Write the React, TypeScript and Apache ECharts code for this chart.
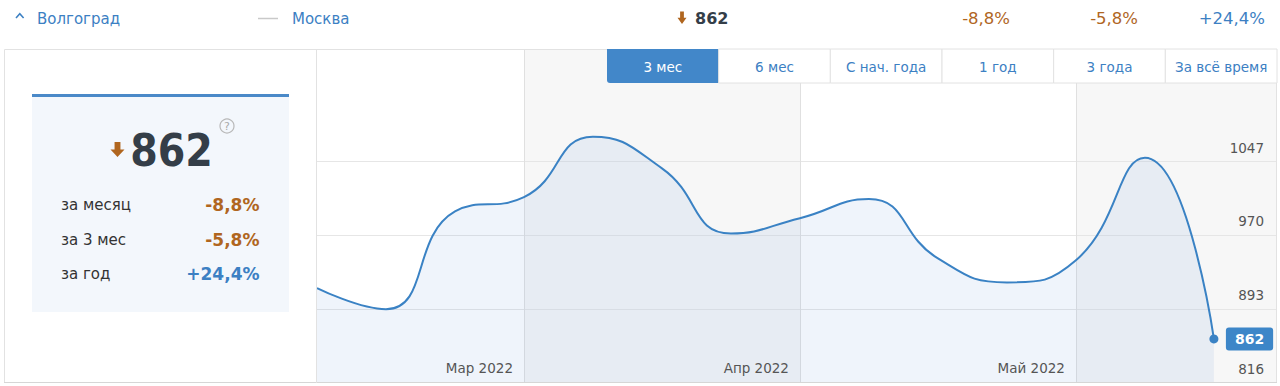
import React, { useEffect, useRef } from 'react';
import * as echarts from 'echarts';

// ---- data ----
const weekIndex = [0, 1, 2, 3, 4, 5, 6, 7, 8, 9, 10, 11, 12, 13];
const values = [915, 893, 995, 1010, 1073, 1040, 972, 988, 1008, 946, 921, 944, 1051, 862];
const monthStarts = [3, 7, 11];
const monthLabels = ['Мар 2022', 'Апр 2022', 'Май 2022'];
const yTicks = [816, 893, 970, 1047];
const periods = ['3 мес', '6 мес', 'С нач. года', '1 год', '3 года', 'За всё время'];
const statLabels = ['за месяц', 'за 3 мес', 'за год'];
const statValues = ['-8,8%', '-5,8%', '+24,4%'];
const cityMain = 'Волгоград';
const cityCompare = 'Москва';
const current = 862;

const X_MAX = 13.9;
const Y_MIN = 816;
const Y_MAX = 1163.5;

const FONT = "'DejaVu Sans', Verdana, sans-serif";
const FONT_COND = "'DejaVu Sans Condensed', 'DejaVu Sans', sans-serif";
const BLUE = '#3c80c3';
const BROWN = '#b0661f';
const DARK = '#343e48';
const LINE = '#3a82c4';
const BORDER = '#e2e2e2';

function downArrow(cx: number, y0: number, w: number, h: number, color: string) {
  const sw = w * 0.42;
  const mid = y0 + h * 0.5;
  return {
    type: 'polygon',
    z: 100,
    shape: {
      points: [
        [cx - sw / 2, y0], [cx + sw / 2, y0], [cx + sw / 2, mid], [cx + w / 2, mid],
        [cx, y0 + h], [cx - w / 2, mid], [cx - sw / 2, mid],
      ],
    },
    style: { fill: color },
  };
}

function txt(text: string, x: number, y: number, opts: any = {}) {
  return {
    type: 'text',
    z: 100,
    style: {
      text, x, y,
      fill: opts.fill || '#333',
      fontSize: opts.fontSize || 15,
      fontWeight: opts.fontWeight || 'normal',
      fontFamily: opts.fontFamily || FONT,
      align: opts.align || 'left',
      verticalAlign: 'middle',
    },
  };
}

function buildGraphic() {
  const els: any[] = [];
  // card border
  els.push({ type: 'rect', z: 90, shape: { x: 4.5, y: 49.5, width: 1272, height: 333 }, style: { fill: 'none', stroke: BORDER, lineWidth: 1 } });
  els.push({ type: 'line', z: 91, shape: { x1: 4, y1: 382.5, x2: 1277, y2: 382.5 }, style: { stroke: '#d6d6d6', lineWidth: 1 } });
  els.push({ type: 'line', z: 91, shape: { x1: 316.5, y1: 49, x2: 316.5, y2: 383 }, style: { stroke: BORDER, lineWidth: 1 } });

  // header row
  els.push({ type: 'polyline', z: 100, shape: { points: [[16, 18], [19.8, 13.8], [23.6, 18]] }, style: { stroke: BLUE, lineWidth: 1.6, fill: 'none' } });
  els.push(txt(cityMain, 37, 18.5, { fill: BLUE, fontSize: 15 }));
  els.push({ type: 'line', z: 100, shape: { x1: 258, y1: 18.5, x2: 278, y2: 18.5 }, style: { stroke: '#c9c9c9', lineWidth: 1.5 } });
  els.push(txt(cityCompare, 292, 18.5, { fill: BLUE, fontSize: 15 }));
  els.push(downArrow(682, 11.5, 9, 12.5, BROWN));
  els.push(txt(String(current), 695, 18.5, { fill: DARK, fontSize: 16, fontWeight: 'bold' }));
  const hdrRight = [1010, 1138, 1265];
  statValues.forEach((v, i) => {
    els.push(txt(v, hdrRight[i], 18.5, { fill: v.startsWith('+') ? BLUE : BROWN, fontSize: 16.5, align: 'right' }));
  });

  // left panel
  els.push({ type: 'rect', z: 95, shape: { x: 32, y: 94, width: 257, height: 218 }, style: { fill: '#f3f7fc' } });
  els.push({ type: 'rect', z: 96, shape: { x: 32, y: 94, width: 257, height: 3 }, style: { fill: '#4a89c8' } });
  els.push(downArrow(117.5, 142, 14, 15, BROWN));
  els.push(txt(String(current), 171.5, 150, { fill: DARK, fontSize: 44, fontWeight: 'bold', align: 'center', fontFamily: FONT_COND }));
  els.push({ type: 'circle', z: 100, shape: { cx: 227, cy: 126, r: 7 }, style: { fill: 'none', stroke: '#b8b8b8', lineWidth: 1.2 } });
  els.push(txt('?', 227, 126.5, { fill: '#aaa', fontSize: 11, align: 'center' }));
  const rowY = [205, 240, 274];
  statLabels.forEach((l, i) => {
    els.push(txt(l, 61, rowY[i], { fill: '#333', fontSize: 15 }));
    els.push(txt(statValues[i], 259.5, rowY[i], { fill: statValues[i].startsWith('+') ? BLUE : BROWN, fontSize: 17, fontWeight: 'bold', align: 'right' }));
  });

  // period buttons
  const bx0 = 607, bx1 = 1277, by = 49, bh = 34;
  const bw = (bx1 - bx0) / periods.length;
  periods.forEach((p, i) => {
    const active = i === 0;
    els.push({
      type: 'rect', z: 100,
      shape: { x: bx0 + i * bw, y: by, width: bw, height: bh, r: active ? [0, 0, 0, 3] : 0 },
      style: active ? { fill: '#4287c9' } : { fill: '#fff', stroke: BORDER, lineWidth: 1 },
    });
    els.push(txt(p, bx0 + i * bw + bw / 2, by + bh / 2 + 1, { fill: active ? '#fff' : BLUE, fontSize: 13.5, align: 'center' }));
  });
  return els;
}

export default function App() {
  const ref = useRef<HTMLDivElement>(null);
  useEffect(() => {
    if (!ref.current) return;
    const chart = echarts.init(ref.current, undefined, { renderer: 'svg' });
    const points = weekIndex.map((x, i) => [x, values[i]]);
    const last = values.length - 1;
    chart.setOption({
      animation: false,
      textStyle: { fontFamily: FONT },
      grid: { left: 317, right: 4, top: 50, bottom: 3, containLabel: false },
      xAxis: {
        type: 'value', min: 0, max: X_MAX, z: 5,
        axisLine: { show: false }, axisTick: { show: false }, splitLine: { show: false },
        axisLabel: {
          inside: true, margin: 8, customValues: monthStarts,
          formatter: (v: number) => monthLabels[monthStarts.indexOf(v)] || '',
          align: 'right', verticalAlign: 'bottom', padding: [0, 11, 0, 0],
          color: '#555', fontSize: 13.5, fontFamily: FONT,
        },
      },
      yAxis: {
        type: 'value', position: 'right', min: Y_MIN, max: Y_MAX, interval: 77, z: 5,
        axisLine: { show: false }, axisTick: { show: false }, splitLine: { show: false },
        axisLabel: {
          inside: true, margin: 12, showMaxLabel: false,
          formatter: (v: number) => (yTicks.indexOf(v) >= 0 ? String(v) : ''),
          verticalAlign: 'bottom', padding: [0, 0, 7, 0],
          color: '#555', fontSize: 13.5, fontFamily: FONT,
        },
      },
      graphic: buildGraphic(),
      series: [
        {
          type: 'line', z: 1, silent: true, data: points, showSymbol: false,
          lineStyle: { opacity: 0 },
          markArea: {
            silent: true, z: 1,
            itemStyle: { color: '#f7f7f7' },
            data: [
              [{ xAxis: monthStarts[0] }, { xAxis: monthStarts[1] }],
              [{ xAxis: monthStarts[2] }, { xAxis: X_MAX }],
            ],
          },
          markLine: {
            silent: true, z: 2, symbol: ['none', 'none'], label: { show: false },
            lineStyle: { color: '#e6e6e6', type: 'solid', width: 1 },
            data: [
              ...yTicks.slice(1).map((v) => ({ yAxis: v })),
              ...monthStarts.map((v) => ({ xAxis: v, lineStyle: { color: '#e0e0e0', type: 'solid', width: 1 } })),
            ],
          },
        },
        {
          type: 'line', z: 3, data: points, smooth: 0.5,
          showSymbol: true, symbol: 'circle',
          symbolSize: (_v: any, p: any) => (p.dataIndex === last ? 9 : 0),
          itemStyle: { color: LINE },
          lineStyle: { color: LINE, width: 2 },
          areaStyle: { color: 'rgba(100,155,215,0.15)' },
          endLabel: {
            show: true, distance: 12,
            formatter: (p: any) => String(p.value[1]),
            backgroundColor: '#3d86c8', color: '#fff', fontWeight: 'bold', fontSize: 14,
            fontFamily: FONT, padding: [5, 9, 4, 9], borderRadius: 3,
          },
        },
      ],
    });
    return () => chart.dispose();
  }, []);
  return (
    <div
      ref={ref}
      style={{ position: 'absolute', left: 0, top: 0, width: 1280, height: 386, background: '#fff' }}
    />
  );
}
